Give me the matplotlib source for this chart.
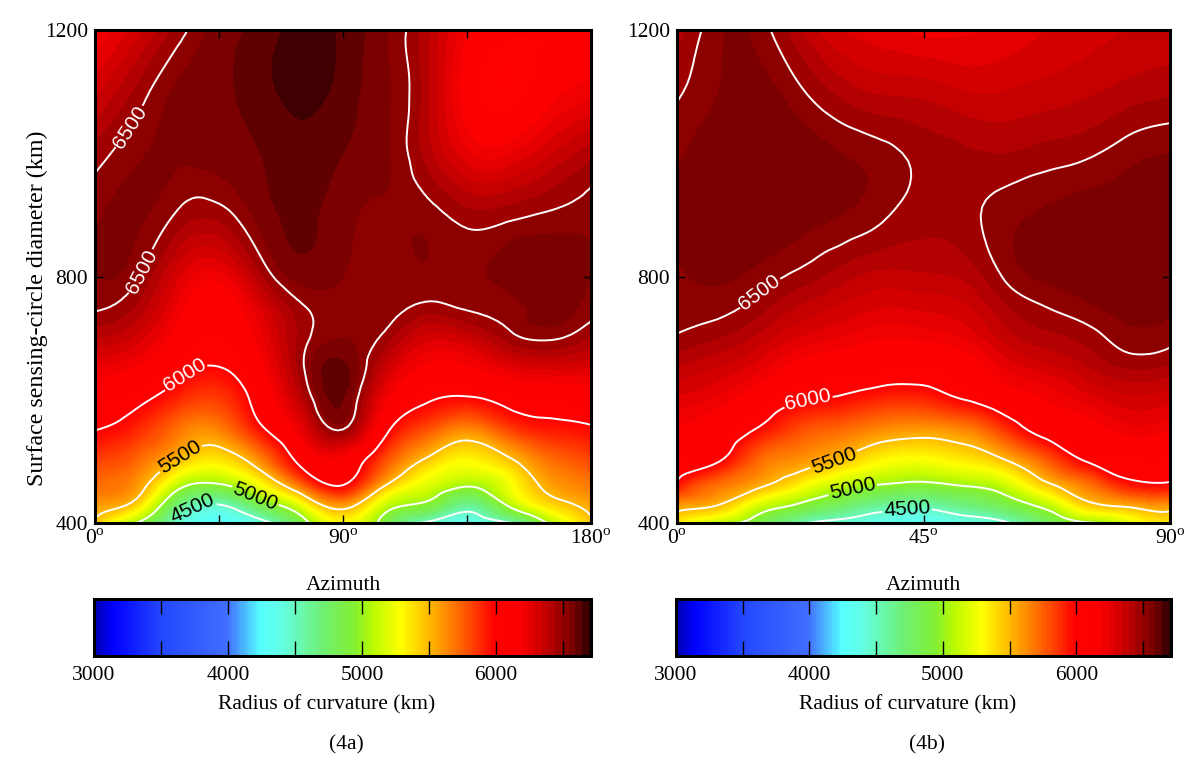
import numpy as np
import matplotlib
matplotlib.use("Agg")
from matplotlib import pyplot as plt
from matplotlib import tri
from matplotlib.colors import LinearSegmentedColormap

plt.rcParams['font.family'] = ['Liberation Serif', 'DejaVu Serif']
plt.rcParams['mathtext.fontset'] = 'custom'
plt.rcParams['mathtext.rm'] = 'Liberation Serif'

diameter = [400, 430, 460, 500, 550, 600, 650, 700, 750, 800, 900, 1000, 1100, 1200]

azimuth_a = [0, 15, 30, 45, 60, 75, 90, 105, 120, 135, 150, 165, 180]
# one list per azimuth, low diameter to high
radius_a = [
    [5450, 5600, 5720, 5830, 6000, 6110, 6240, 6400, 6510, 6550, 6540, 6470, 6330, 6200],
    [5000, 5420, 5600, 5730, 5900, 6040, 6180, 6330, 6440, 6510, 6560, 6540, 6460, 6320],
    [4450, 4720, 5080, 5470, 5700, 5900, 6050, 6150, 6230, 6310, 6490, 6560, 6560, 6470],
    [4250, 4500, 4950, 5350, 5650, 5850, 5990, 6090, 6130, 6220, 6470, 6570, 6590, 6570],
    [4400, 4850, 5250, 5620, 5950, 6080, 6160, 6230, 6300, 6430, 6570, 6600, 6630, 6620],
    [4880, 5250, 5700, 6050, 6250, 6400, 6480, 6470, 6490, 6570, 6610, 6630, 6665, 6665],
    [5300, 5600, 5990, 6150, 6490, 6600, 6620, 6550, 6540, 6550, 6570, 6600, 6630, 6640],
    [4900, 5150, 5500, 5800, 6050, 6220, 6360, 6480, 6540, 6540, 6540, 6560, 6560, 6560],
    [4470, 4950, 5200, 5460, 5790, 6020, 6170, 6320, 6480, 6540, 6530, 6430, 6420, 6420],
    [4350, 4630, 5010, 5300, 5620, 5970, 6170, 6350, 6510, 6540, 6470, 6260, 6150, 6200],
    [4480, 5040, 5240, 5450, 5810, 6050, 6260, 6470, 6530, 6570, 6480, 6240, 6050, 6120],
    [5040, 5400, 5560, 5700, 5930, 6090, 6300, 6510, 6570, 6590, 6510, 6340, 6160, 6100],
    [5450, 5570, 5680, 5810, 5970, 6130, 6290, 6440, 6530, 6550, 6530, 6430, 6230, 6150],
]

azimuth_b = [0, 7.5, 15, 22.5, 30, 37.5, 45, 52.5, 60, 67.5, 75, 82.5, 90]
radius_b = [
    [5350, 5600, 5950, 6060, 6180, 6280, 6390, 6490, 6530, 6540, 6560, 6540, 6490, 6420],
    [5100, 5510, 5700, 6010, 6130, 6230, 6340, 6450, 6520, 6560, 6590, 6580, 6550, 6540],
    [4850, 5180, 5530, 5720, 5970, 6120, 6260, 6380, 6470, 6530, 6590, 6590, 6570, 6530],
    [4550, 4970, 5300, 5600, 5800, 6010, 6150, 6290, 6390, 6480, 6570, 6580, 6510, 6400],
    [4420, 4780, 5090, 5460, 5720, 5970, 6120, 6240, 6340, 6420, 6550, 6550, 6430, 6300],
    [4350, 4620, 4970, 5300, 5620, 5900, 6090, 6200, 6300, 6380, 6510, 6520, 6390, 6270],
    [4300, 4570, 4930, 5260, 5580, 5900, 6080, 6210, 6310, 6390, 6470, 6480, 6380, 6230],
    [4380, 4690, 5000, 5340, 5640, 6000, 6130, 6250, 6340, 6410, 6480, 6460, 6350, 6240],
    [4470, 4850, 5130, 5480, 5860, 6120, 6250, 6370, 6440, 6510, 6530, 6450, 6350, 6260],
    [4750, 5100, 5440, 5750, 6080, 6200, 6320, 6430, 6500, 6560, 6560, 6470, 6370, 6300],
    [4980, 5450, 5680, 6010, 6160, 6270, 6390, 6470, 6540, 6580, 6580, 6490, 6390, 6330],
    [5200, 5560, 5920, 6080, 6220, 6330, 6450, 6530, 6570, 6590, 6580, 6530, 6420, 6350],
    [5350, 5610, 5960, 6060, 6200, 6310, 6430, 6520, 6560, 6580, 6580, 6550, 6440, 6360],
]

contour_levels = [4500, 5000, 5500, 6000, 6500]
labels_a = [(12.5, 1043), (15.6, 811), (32, 643), (32, 499), (58, 442), (36, 420)]
labels_b = [(15, 775), (24, 595), (28.5, 505), (32, 457), (42, 426)]

vmin, vmax = 3000, 6710
cmap_stops = [(3000, (0, 0, 170)), (3150, (0, 0, 255)), (3500, (35, 70, 255)), (4000, (65, 110, 255)),
              (4250, (85, 255, 255)), (4400, (100, 255, 230)), (4700, (110, 240, 120)), (4950, (130, 240, 50)),
              (5100, (190, 250, 0)), (5300, (255, 255, 0)), (5550, (255, 170, 0)), (5800, (255, 80, 0)),
              (6000, (255, 0, 0)), (6200, (250, 0, 0)), (6400, (190, 0, 0)), (6500, (150, 0, 0)),
              (6550, (135, 0, 0)), (6600, (115, 0, 0)), (6650, (85, 0, 0)), (6710, (40, 0, 0))]
cmap = LinearSegmentedColormap.from_list(
    "radius", [((v - vmin) / (vmax - vmin), tuple(c / 255 for c in rgb)) for v, rgb in cmap_stops], N=512)
fill_levels = np.concatenate([np.arange(vmin, 6000, 20), np.arange(6000, vmax, 50), [vmax]])

W, H = 1200, 767
FS = 15.5


def px_axes(fig, x0, x1, y0, y1):
    return fig.add_axes([x0 / W, 1 - y1 / H, (x1 - x0) / W, (y1 - y0) / H])


def draw_panel(fig, rect, cbar_rect, azimuth, values, xticks, xlabels, manual, tag):
    ax = px_axes(fig, *rect)
    az, dd = np.meshgrid(azimuth, diameter, indexing="ij")
    z = np.array(values, dtype=float)
    triang = tri.Triangulation(az.ravel() / max(azimuth), dd.ravel() / 1200)
    refiner = tri.UniformTriRefiner(triang)
    fine, zfine = refiner.refine_field(z.ravel(), subdiv=3)
    zfine = np.clip(zfine, vmin, vmax)
    fine = tri.Triangulation(fine.x * max(azimuth), fine.y * 1200, fine.triangles)
    cf = ax.tricontourf(fine, zfine, levels=fill_levels, cmap=cmap, vmin=vmin, vmax=vmax)
    cs = ax.tricontour(fine, zfine, levels=contour_levels, colors="white", linewidths=1.4)
    texts = ax.clabel(cs, fmt="%d", fontsize=15, manual=manual, inline=True, inline_spacing=4)
    for t in texts:
        t.set_fontfamily("Liberation Sans")
        t.set_color("white" if t.get_text() in ("6000", "6500") else "black")
    ax.set_xlim(0, max(azimuth))
    ax.set_ylim(400, 1200)
    ax.set_xticks(xticks)
    ax.set_xticklabels(xlabels)
    ax.set_yticks([400, 800, 1200])
    ax.tick_params(direction="in", top=True, right=True, length=6, width=1, labelsize=FS, pad=5)
    ax.set_xlabel("Azimuth", fontsize=FS, labelpad=19)
    for s in ax.spines.values():
        s.set_linewidth(2.2)

    cax = px_axes(fig, *cbar_rect)
    cb = fig.colorbar(cf, cax=cax, orientation="horizontal", spacing="proportional")
    cb.set_ticks(np.arange(3000, 6501, 500))
    cb.set_ticklabels(["3000", "", "4000", "", "5000", "", "6000", ""])
    cax.tick_params(direction="in", top=True, bottom=True, length=10.5, width=1, labelsize=FS, pad=7.5)
    cax.set_xlabel("Radius of curvature (km)", fontsize=FS, labelpad=7)
    cax.xaxis.get_label().set_x(0.468)
    cb.outline.set_linewidth(2.2)
    cb.solids.set_edgecolor("face")
    fig.text(((rect[0] + rect[1]) / 2 + 3) / W, 1 - 745 / H, tag, fontsize=FS, ha="center", va="center")
    return ax


fig = plt.figure(figsize=(12, 7.67), dpi=100)
ax_a = draw_panel(fig, (95, 591, 30, 523), (94, 591, 599, 656), azimuth_a,
                  radius_a, [0, 45, 90, 135, 180], ["0$^{\\mathrm{o}}$", "", "90$^{\\mathrm{o}}$", "", "180$^{\\mathrm{o}}$"],
                  labels_a, "(4a)")
fig.text(37 / W, 1 - 308 / H, "Surface sensing-circle diameter (km)", fontsize=17.3,
         rotation=90, ha="center", va="center")
draw_panel(fig, (677, 1170, 30, 523), (676, 1171, 599, 656), azimuth_b,
           radius_b, [0, 45, 90], ["0$^{\\mathrm{o}}$", "45$^{\\mathrm{o}}$", "90$^{\\mathrm{o}}$"],
           labels_b, "(4b)")

fig.savefig("out.png", dpi=100)
